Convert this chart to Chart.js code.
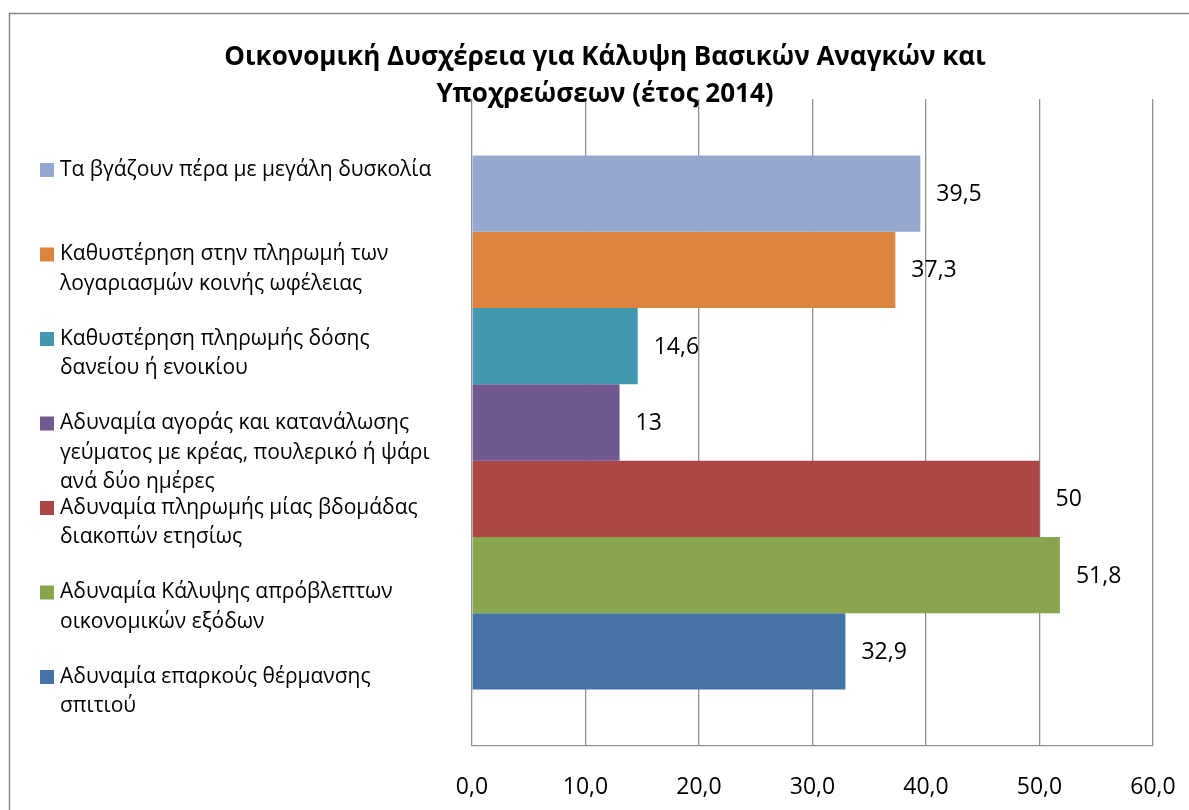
<!DOCTYPE html>
<html>
<head>
<meta charset="utf-8">
<script src="https://cdn.jsdelivr.net/npm/chart.js@4"></script>
<style>
  html, body { margin: 0; padding: 0; background: #fff; }
  #wrap { width: 1189px; height: 810px; position: relative; }
</style>
</head>
<body>
<div id="wrap"><canvas id="c" width="1189" height="810"></canvas></div>
<script>
// ---- data ----
const titleLines = ['Οικονομική Δυσχέρεια για Κάλυψη Βασικών Αναγκών και', 'Υποχρεώσεων (έτος 2014)'];
const categories = [
  ['Τα βγάζουν πέρα με μεγάλη δυσκολία'],
  ['Καθυστέρηση στην πληρωμή των', 'λογαριασμών κοινής ωφέλειας'],
  ['Καθυστέρηση πληρωμής δόσης', 'δανείου ή ενοικίου'],
  ['Αδυναμία αγοράς και κατανάλωσης', 'γεύματος με κρέας, πουλερικό ή ψάρι', 'ανά δύο ημέρες'],
  ['Αδυναμία πληρωμής μίας βδομάδας', 'διακοπών ετησίως'],
  ['Αδυναμία Κάλυψης απρόβλεπτων', 'οικονομικών εξόδων'],
  ['Αδυναμία επαρκούς θέρμανσης', 'σπιτιού']
];
const values = [39.5, 37.3, 14.6, 13, 50, 51.8, 32.9];
const colors = ['#95A9D0', '#DB843D', '#4198AF', '#71588F', '#AA4643', '#89A54E', '#4572A7'];
const xMin = 0, xMax = 60, xStep = 10;

// ---- styles ----
const FONT = '"Open Sans", "Noto Sans", sans-serif';
const gridColor = '#8f8f8f';
const fmt = v => String(v).replace('.', ',');

const framePlugin = {
  id: 'frame',
  beforeDraw(chart) {
    const ctx = chart.ctx;
    ctx.save();
    ctx.fillStyle = '#fff';
    ctx.fillRect(0, 0, chart.width, chart.height);
    ctx.strokeStyle = '#878787';
    ctx.lineWidth = 1.5;
    ctx.strokeRect(9.5, 13.5, 1400, 1000);
    ctx.restore();
  }
};

const titlePlugin = {
  id: 'customTitle',
  afterDraw(chart) {
    const ctx = chart.ctx;
    ctx.save();
    ctx.font = 'bold 26px ' + FONT;
    ctx.fillStyle = '#000';
    ctx.textAlign = 'center';
    ctx.textBaseline = 'alphabetic';
    titleLines.forEach((t, i) => ctx.fillText(t, 605, 65 + i * 36.5));
    ctx.restore();
  }
};

const legendPlugin = {
  id: 'sideLegend',
  afterDraw(chart) {
    const ctx = chart.ctx;
    ctx.save();
    ctx.font = '21px ' + FONT;
    ctx.textBaseline = 'middle';
    ctx.textAlign = 'left';
    chart.data.datasets.forEach((ds, i) => {
      const y0 = 170 + i * 84.5;
      ctx.fillStyle = ds.backgroundColor;
      ctx.fillRect(40, y0 - 7, 14, 14);
      ctx.fillStyle = '#000';
      ds.label.forEach((line, k) => ctx.fillText(line, 60, y0 + k * 29.5));
    });
    ctx.restore();
  }
};

const valueLabelPlugin = {
  id: 'valueLabels',
  afterDatasetsDraw(chart) {
    const ctx = chart.ctx;
    ctx.save();
    ctx.font = '23px ' + FONT;
    ctx.fillStyle = '#000';
    ctx.textBaseline = 'middle';
    ctx.textAlign = 'left';
    chart.data.datasets.forEach((ds, i) => {
      const el = chart.getDatasetMeta(i).data[0];
      ctx.fillText(fmt(ds.data[0]), el.x + 16, el.y + 1);
    });
    ctx.restore();
  }
};

function build() {
  new Chart(document.getElementById('c'), {
    type: 'bar',
    data: {
      labels: [''],
      datasets: categories.map((c, i) => ({
        label: c,
        data: [values[i]],
        backgroundColor: colors[i],
        borderWidth: 0
      }))
    },
    options: {
      indexAxis: 'y',
      responsive: false,
      animation: false,
      devicePixelRatio: 1,
      layout: { padding: { left: 472, right: 36, top: 99, bottom: 0 } },
      datasets: { bar: { categoryPercentage: 0.8254, barPercentage: 1 } },
      plugins: { legend: { display: false }, title: { display: false }, tooltip: { enabled: false } },
      scales: {
        x: {
          min: xMin, max: xMax,
          ticks: {
            stepSize: xStep, padding: 28, color: '#000',
            font: { family: FONT, size: 23 },
            maxRotation: 0,
            callback: v => Number(v).toFixed(1).replace('.', ',')
          },
          grid: { color: gridColor, lineWidth: 1.3, drawTicks: false },
          border: { display: true, color: gridColor, width: 1.3 },
          afterFit(s) { s.height = 64; s.paddingLeft = 0; s.paddingRight = 0; }
        },
        y: { display: false }
      }
    },
    plugins: [framePlugin, titlePlugin, legendPlugin, valueLabelPlugin]
  });
}
if (document.fonts && document.fonts.load) {
  Promise.all([
    document.fonts.load('21px "Open Sans"'),
    document.fonts.load('bold 26px "Open Sans"')
  ]).catch(() => {}).then(build);
} else { build(); }
</script>
</body>
</html>
